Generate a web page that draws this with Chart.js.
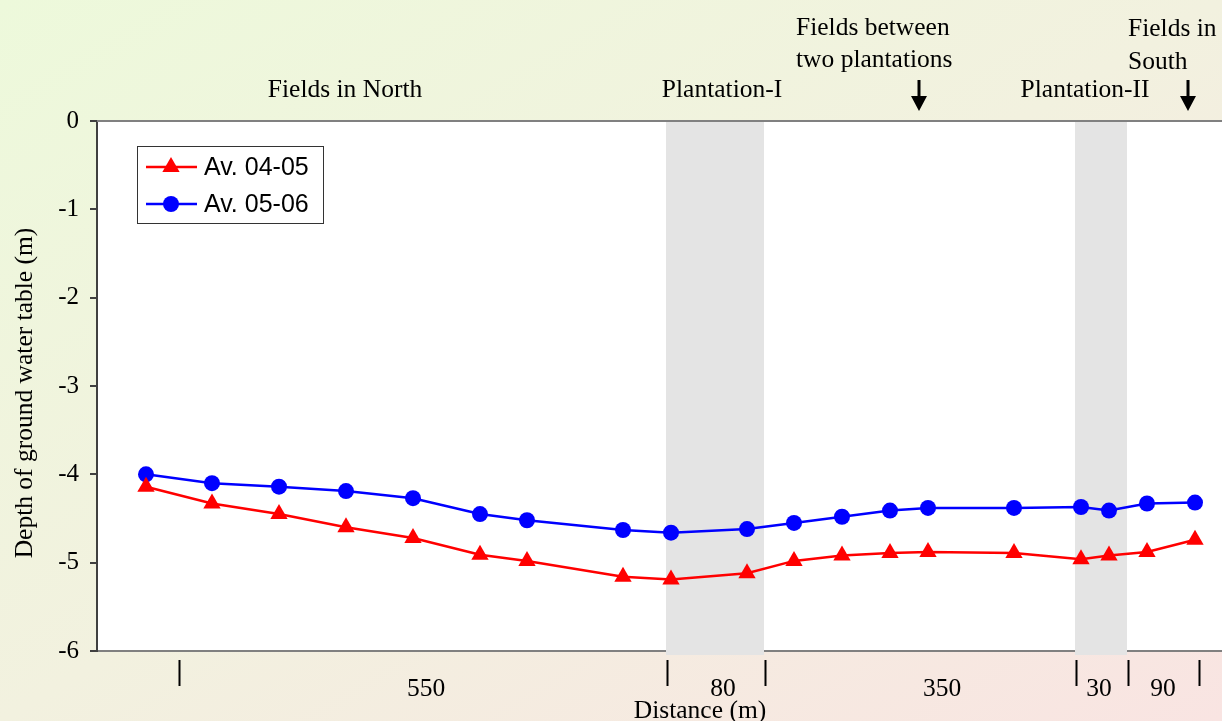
<!DOCTYPE html>
<html>
<head>
<meta charset="utf-8">
<title>Ground water table depth along transect</title>
<script src="https://cdn.jsdelivr.net/npm/chart.js@4.4.1/dist/chart.umd.min.js"></script>
<style>
    html, body { margin: 0; padding: 0; }
    body {
        width: 1222px;
        height: 721px;
        overflow: hidden;
        background: linear-gradient(to bottom right, #edf9db 0%, #f2f1df 50%, #f9e4e2 100%);
    }
    canvas { display: block; }
</style>
</head>
<body>
<canvas id="depthChart" width="1222" height="721"></canvas>
<script>
// Observation stations along the transect (schematic position units)
const stations = [49, 115, 182, 249, 316, 383, 430, 526, 574, 650, 697, 745, 793, 831, 917, 984, 1012, 1050, 1098];

// Average depth of the ground water table (m)
const avg0405 = [-4.14, -4.33, -4.45, -4.60, -4.72, -4.91, -4.98, -5.16, -5.19, -5.12, -4.98, -4.92, -4.89, -4.88, -4.89, -4.96, -4.92, -4.88, -4.74];
const avg0506 = [-4.00, -4.10, -4.14, -4.19, -4.27, -4.45, -4.52, -4.63, -4.66, -4.62, -4.55, -4.48, -4.41, -4.38, -4.38, -4.37, -4.41, -4.33, -4.32];

const seriesNames = ['Av. 04-05', 'Av. 05-06'];

// Stretches along the transect and their lengths (m)
const segmentEdges = [82, 570, 668, 979, 1031, 1102];
const segmentLengths = ['550', '80', '350', '30', '90'];
const segmentLabelAt = [329, 626, 845, 1002, 1066];

// Plantation strips [from, to]
const plantations = [[569, 667], [978, 1030]];

const SERIF = '"Liberation Serif", "Times New Roman", serif';
const SANS = '"Liberation Sans", Arial, sans-serif';

function toPoints(values) {
    return stations.map((x, i) => ({ x: x, y: values[i] }));
}

// Text above the plot
const zoneLabels = [
    { lines: ['Fields in North'], x: 248, align: 'center', rows: [90] },
    { lines: ['Plantation-I'], x: 625, align: 'center', rows: [90] },
    { lines: ['Fields between', 'two plantations'], x: 699, align: 'left', rows: [28, 60] },
    { lines: ['Plantation-II'], x: 988, align: 'center', rows: [90] },
    { lines: ['Fields in', 'South'], x: 1031, align: 'left', rows: [29, 62] }
];
const arrowsAt = [822, 1091];

function drawMarker(ctx, style, x, y, r, color) {
    ctx.save();
    ctx.fillStyle = color;
    ctx.beginPath();
    if (style === 'triangle') {
        ctx.moveTo(x, y - r);
        ctx.lineTo(x + r * Math.sin(Math.PI / 3), y + r / 2);
        ctx.lineTo(x - r * Math.sin(Math.PI / 3), y + r / 2);
        ctx.closePath();
    } else {
        ctx.arc(x, y, r, 0, Math.PI * 2);
    }
    ctx.fill();
    ctx.restore();
}

const decorPlugin = {
    id: 'decor',
    beforeDraw(chart) {
        const { ctx, chartArea: a } = chart;
        ctx.save();
        ctx.fillStyle = '#ffffff';
        ctx.fillRect(a.left, a.top, a.right - a.left, a.bottom - a.top);
        ctx.restore();
    },
    beforeDatasetsDraw(chart) {
        const { ctx, chartArea: a, scales: { x } } = chart;
        ctx.save();
        // grey plantation strips
        ctx.fillStyle = '#e4e4e4';
        plantations.forEach(([from, to]) => {
            const x0 = x.getPixelForValue(from);
            const x1 = x.getPixelForValue(to);
            ctx.fillRect(x0, a.top + 1, x1 - x0, a.bottom - a.top + 3);
        });
        // top frame line
        ctx.strokeStyle = '#808080';
        ctx.lineWidth = 2;
        ctx.beginPath();
        ctx.moveTo(a.left, a.top);
        ctx.lineTo(a.right, a.top);
        ctx.stroke();
        ctx.restore();
    },
    afterDatasetsDraw(chart) {
        const { ctx, chartArea: a } = chart;
        // legend box
        const bx = a.left + 40, by = a.top + 25, bw = 186, bh = 77;
        ctx.save();
        ctx.fillStyle = '#ffffff';
        ctx.fillRect(bx, by, bw, bh);
        ctx.strokeStyle = '#333333';
        ctx.lineWidth = 1;
        ctx.strokeRect(bx + 0.5, by + 0.5, bw, bh);
        ctx.font = '25px ' + SANS;
        ctx.textBaseline = 'middle';
        ctx.textAlign = 'left';
        chart.data.datasets.forEach((ds, i) => {
            const ly = by + 21 + i * 37;
            ctx.strokeStyle = ds.borderColor;
            ctx.lineWidth = 2.5;
            ctx.beginPath();
            ctx.moveTo(bx + 9, ly);
            ctx.lineTo(bx + 60, ly);
            ctx.stroke();
            drawMarker(ctx, ds.pointStyle, bx + 34, ly, ds.pointRadius, ds.backgroundColor);
            ctx.fillStyle = '#000000';
            ctx.fillText(ds.label, bx + 67, ly + 1);
        });
        ctx.restore();
    },
    afterDraw(chart) {
        const { ctx, chartArea: a, scales: { x } } = chart;
        ctx.save();
        ctx.fillStyle = '#000000';
        ctx.strokeStyle = '#000000';
        ctx.font = '25.5px ' + SERIF;
        ctx.textBaseline = 'middle';

        // zone names above the plot
        zoneLabels.forEach(z => {
            ctx.textAlign = z.align;
            const px = x.getPixelForValue(z.x);
            z.lines.forEach((line, i) => ctx.fillText(line, px, z.rows[i]));
        });

        // downward arrows
        arrowsAt.forEach(v => {
            const px = x.getPixelForValue(v);
            ctx.lineWidth = 3;
            ctx.beginPath();
            ctx.moveTo(px, 80);
            ctx.lineTo(px, 100);
            ctx.stroke();
            ctx.beginPath();
            ctx.moveTo(px - 8, 96);
            ctx.lineTo(px + 8, 96);
            ctx.lineTo(px, 111);
            ctx.closePath();
            ctx.fill();
        });

        // stretch boundaries and lengths under the plot
        ctx.lineWidth = 2;
        segmentEdges.forEach(v => {
            const px = Math.round(x.getPixelForValue(v)) + 0.5;
            ctx.beginPath();
            ctx.moveTo(px, a.bottom + 9);
            ctx.lineTo(px, a.bottom + 35);
            ctx.stroke();
        });
        ctx.textAlign = 'center';
        segmentLengths.forEach((t, i) => {
            ctx.fillText(t, x.getPixelForValue(segmentLabelAt[i]), a.bottom + 38);
        });
        ctx.fillText('Distance (m)', x.getPixelForValue(603), a.bottom + 60);

        // y axis title
        ctx.translate(25, 393);
        ctx.rotate(-Math.PI / 2);
        ctx.fillText('Depth of ground water table (m)', 0, 0);
        ctx.restore();
    }
};

new Chart(document.getElementById('depthChart'), {
    type: 'line',
    data: {
        datasets: [{
            label: seriesNames[0],
            data: toPoints(avg0405),
            borderColor: '#ff0000',
            backgroundColor: '#ff0000',
            borderWidth: 2.5,
            pointStyle: 'triangle',
            pointRadius: 10,
            pointBorderWidth: 0,
            pointHoverRadius: 10,
            tension: 0
        }, {
            label: seriesNames[1],
            data: toPoints(avg0506),
            borderColor: '#0000ff',
            backgroundColor: '#0000ff',
            borderWidth: 2.5,
            pointStyle: 'circle',
            pointRadius: 8,
            pointBorderWidth: 0,
            pointHoverRadius: 8,
            tension: 0
        }]
    },
    options: {
        responsive: false,
        animation: false,
        devicePixelRatio: 1,
        layout: {
            autoPadding: false,
            padding: { top: 121, right: 0, bottom: 0, left: 0 }
        },
        plugins: {
            legend: { display: false },
            tooltip: { enabled: false }
        },
        scales: {
            x: {
                type: 'linear',
                min: 0,
                max: 1125,
                ticks: { display: false },
                grid: { display: false },
                border: { color: '#808080', width: 2 },
                afterFit: scale => { scale.height = 70; }
            },
            y: {
                min: -6,
                max: 0,
                ticks: {
                    stepSize: 1,
                    color: '#000000',
                    padding: 11,
                    font: { family: SERIF, size: 25 }
                },
                grid: {
                    drawOnChartArea: false,
                    drawTicks: true,
                    tickLength: 7,
                    color: '#404040',
                    lineWidth: 2
                },
                border: { color: '#404040', width: 2 },
                afterFit: scale => { scale.width = 97; }
            }
        }
    },
    plugins: [decorPlugin]
});
</script>
</body>
</html>
